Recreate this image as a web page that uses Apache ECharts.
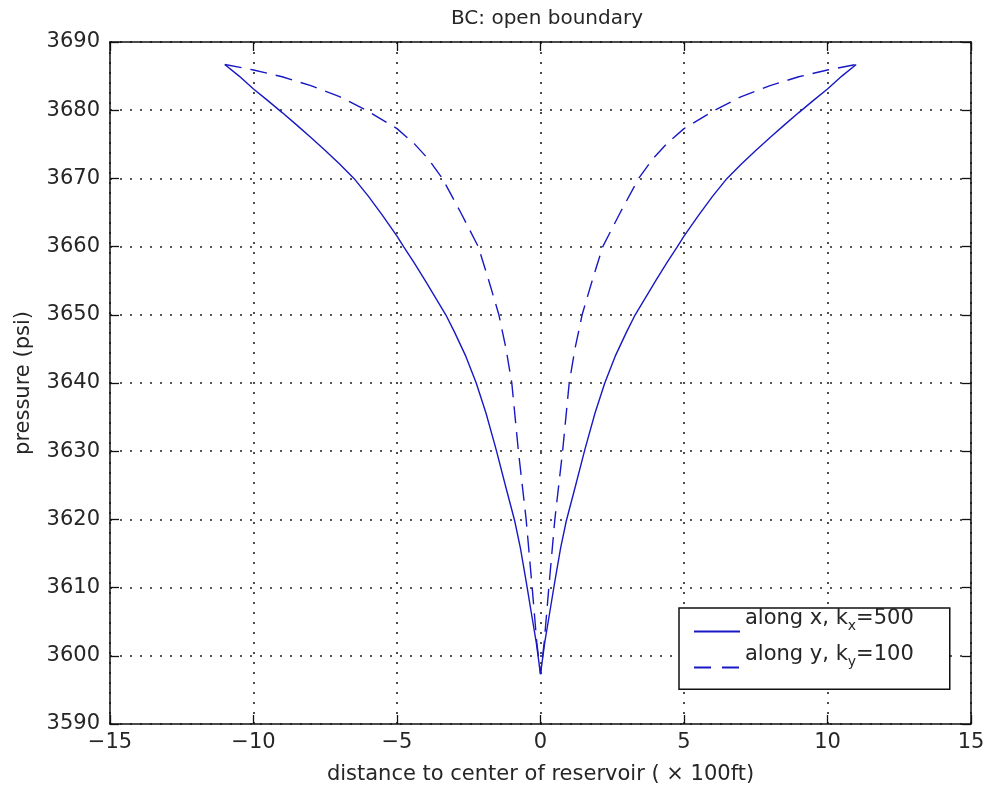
<!DOCTYPE html>
<html>
<head>
<meta charset="utf-8">
<script src="https://cdn.jsdelivr.net/npm/echarts@6/dist/echarts.min.js"></script>
<style>
html,body{margin:0;padding:0;background:#fff;}
#chart{width:988px;height:794px;}
</style>
</head>
<body>
<div id="chart"></div>
<script>
// ---- data ----
const titleText = 'BC: open boundary';
const xAxisName = 'distance to center of reservoir ( \u00d7 100ft)';
const yAxisName = 'pressure (psi)';
const seriesNames = ['along x, k_x=500', 'along y, k_y=100'];

// along x (solid)
const alongX_dist = [-11, -10.5, -10, -9.5, -9, -8.5, -8, -7.5, -7, -6.5, -6, -5.5, -5, -4.77, -4.4, -4, -3.65, -3.3, -3, -2.6, -2.24, -1.9, -1.55, -1.2, -0.9, -0.7, -0.5, -0.3, -0.15, 0,
                     0.15, 0.3, 0.5, 0.7, 0.9, 1.2, 1.55, 1.9, 2.24, 2.6, 3, 3.3, 3.65, 4, 4.4, 4.77, 5, 5.5, 6, 6.5, 7, 7.5, 8, 8.5, 9, 9.5, 10, 10.5, 11];
const alongX_pres = [3686.7, 3685.0, 3683.1, 3681.4, 3679.65, 3677.85, 3676.0, 3674.1, 3672.1, 3670.0, 3667.4, 3664.55, 3661.55, 3660.0, 3657.6, 3654.9, 3652.45, 3650.0, 3647.5, 3643.9, 3640.0, 3635.6, 3630.3, 3624.6, 3619.8, 3615.8, 3610.9, 3605.8, 3602.0, 3597.3,
                     3602.0, 3605.8, 3610.9, 3615.8, 3619.8, 3624.6, 3630.3, 3635.6, 3640.0, 3643.9, 3647.5, 3650.0, 3652.45, 3654.9, 3657.6, 3660.0, 3661.55, 3664.55, 3667.4, 3670.0, 3672.1, 3674.1, 3676.0, 3677.85, 3679.65, 3681.4, 3683.1, 3685.0, 3686.7];

// along y (dashed)
const alongY_dist = [-11, -10, -9, -8, -7, -6.07, -5, -4.4, -3.9, -3.42, -2.78, -2.17, -1.8, -1.45, -1.2, -1.0, -0.77, -0.5, -0.29, -0.13, 0,
                     0.13, 0.29, 0.5, 0.77, 1.0, 1.2, 1.45, 1.8, 2.17, 2.78, 3.42, 3.9, 4.4, 5, 6.07, 7, 8, 9, 10, 11];
const alongY_pres = [3686.7, 3685.9, 3684.9, 3683.6, 3682.0, 3680.0, 3677.3, 3675.1, 3672.8, 3670.0, 3665.0, 3660.0, 3655.0, 3650.0, 3645.0, 3640.0, 3630.0, 3620.0, 3610.0, 3602.0, 3597.3,
                     3602.0, 3610.0, 3620.0, 3630.0, 3640.0, 3645.0, 3650.0, 3655.0, 3660.0, 3665.0, 3670.0, 3672.8, 3675.1, 3677.3, 3680.0, 3682.0, 3683.6, 3684.9, 3685.9, 3686.7];

const xMin = -15, xMax = 15, xStep = 5;
const yMin = 3590, yMax = 3690, yStep = 10;

// ---- chart ----
const FONT = '"DejaVu Sans", "Liberation Sans", Arial, sans-serif';
const TEXT = '#262626';
const LINE_COLOR = '#1818c4';
const chart = echarts.init(document.getElementById('chart'), null, {renderer: 'canvas'});

function pairs(xs, ys) { return xs.map((x, i) => [x, ys[i]]); }

const minusFmt = v => (v < 0 ? '\u2212' + Math.abs(v) : String(v));
const plainFmt = v => String(v);

const tickCommon = {show: true, inside: true, length: 9, lineStyle: {color: '#111', width: 1.3}};
const axisLineCommon = {show: true, onZero: false, lineStyle: {color: '#111', width: 1.5}};
const gridLine = {show: true, lineStyle: {color: '#222', type: [2, 8], width: 1.6}};

const option = {
  animation: false,
  backgroundColor: '#fff',
  title: {
    text: titleText, left: 446, top: 4,
    textStyle: {fontFamily: FONT, fontSize: 20, fontWeight: 'normal', color: TEXT}
  },
  grid: {left: 110, right: 17, top: 42, bottom: 70, containLabel: false},
  legend: {
    orient: 'vertical', left: 679, top: 608,
    backgroundColor: '#fff', borderColor: '#111', borderWidth: 1.5,
    padding: [0, 36, 16, 14],
    itemWidth: 46, itemHeight: 14, itemGap: 7,
    data: [
      {name: seriesNames[0], lineStyle: {type: 'solid'}},
      {name: seriesNames[1], lineStyle: {type: [17, 11]}}
    ],
    itemStyle: {opacity: 0},
    formatter: function (name) {
      const m = name.match(/^(.*k)_(.)(=.*)$/);
      return '{n|' + m[1] + '}{s|' + m[2] + '}{n|' + m[3] + '}';
    },
    textStyle: {
      fontFamily: FONT, fontSize: 21, color: TEXT,
      padding: [0, 0, 26, 0],
      rich: {
        n: {fontFamily: FONT, fontSize: 21, color: TEXT},
        s: {fontFamily: FONT, fontSize: 14, color: TEXT, padding: [16, 0, 0, 0]}
      }
    }
  },
  xAxis: [{
    type: 'value', min: xMin, max: xMax, interval: xStep,
    name: xAxisName, nameLocation: 'middle', nameGap: 40,
    nameTextStyle: {fontFamily: FONT, fontSize: 21, color: TEXT},
    axisLine: axisLineCommon,
    axisTick: tickCommon,
    axisLabel: {fontFamily: FONT, fontSize: 21, color: TEXT, margin: 8, formatter: minusFmt},
    splitLine: gridLine
  }, {
    type: 'value', min: xMin, max: xMax, interval: xStep, position: 'top',
    axisLine: axisLineCommon,
    axisTick: tickCommon, axisLabel: {show: false}, splitLine: {show: false}
  }],
  yAxis: [{
    type: 'value', min: yMin, max: yMax, interval: yStep,
    name: yAxisName, nameLocation: 'middle', nameGap: 76, nameRotate: 90,
    nameTextStyle: {fontFamily: FONT, fontSize: 21, color: TEXT},
    axisLine: axisLineCommon,
    axisTick: tickCommon,
    axisLabel: {fontFamily: FONT, fontSize: 21, color: TEXT, margin: 10, formatter: plainFmt},
    splitLine: gridLine
  }, {
    type: 'value', min: yMin, max: yMax, interval: yStep, position: 'right',
    axisLine: axisLineCommon,
    axisTick: tickCommon, axisLabel: {show: false}, splitLine: {show: false}
  }],
  series: [{
    name: seriesNames[0], type: 'line', xAxisIndex: 0, yAxisIndex: 0,
    data: pairs(alongX_dist, alongX_pres),
    symbol: 'none', smooth: false,
    lineStyle: {color: LINE_COLOR, width: 1.4, type: 'solid'},
    itemStyle: {color: LINE_COLOR}
  }, {
    name: seriesNames[1], type: 'line', xAxisIndex: 0, yAxisIndex: 0,
    data: pairs(alongY_dist, alongY_pres),
    symbol: 'none', smooth: false,
    lineStyle: {color: LINE_COLOR, width: 1.4, type: [17, 9]},
    itemStyle: {color: LINE_COLOR}
  }]
};
chart.setOption(option);
</script>
</body>
</html>
